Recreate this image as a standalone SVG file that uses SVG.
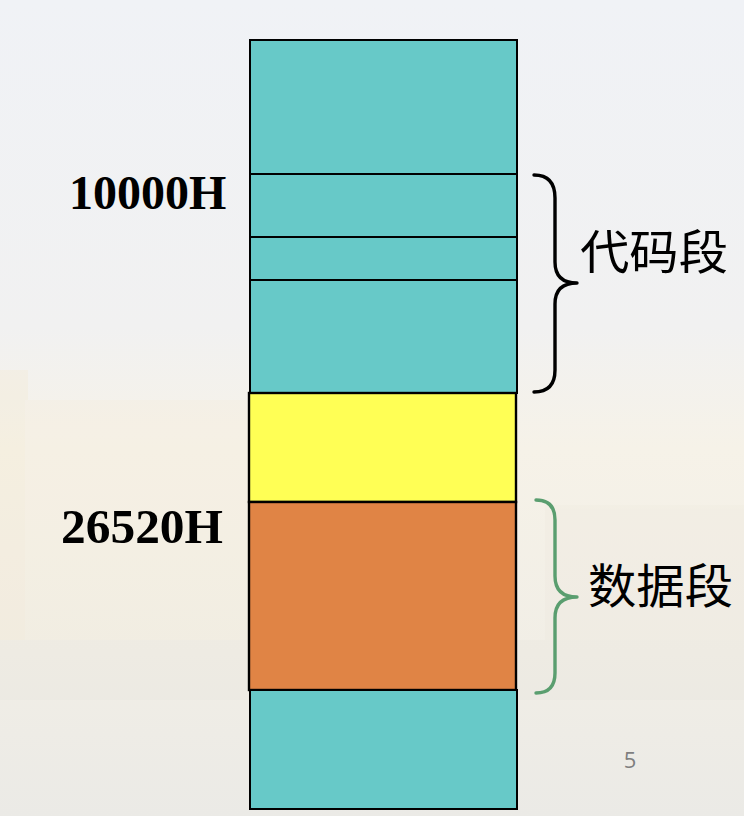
<svg xmlns="http://www.w3.org/2000/svg" width="744" height="816" viewBox="0 0 744 816">
  <defs>
    <linearGradient id="bg" x1="0" y1="0" x2="0" y2="1">
      <stop offset="0" stop-color="#f0f2f6"/>
      <stop offset="0.4" stop-color="#f1f1f1"/>
      <stop offset="0.55" stop-color="#f6f2e8"/>
      <stop offset="0.8" stop-color="#f1eee6"/>
      <stop offset="1" stop-color="#ebeae6"/>
    </linearGradient>
    <style>
      .teal { fill: #67c9c8; stroke: #000; stroke-width: 2; }
      .yellow { fill: #ffff55; stroke: #000; stroke-width: 2.4; }
      .orange { fill: #e08445; stroke: #000; stroke-width: 2.4; }
      .addr { font-family: "Liberation Serif", "Times New Roman", serif; font-weight: bold; font-size: 48px; fill: #000; }
      .seg { font-family: "Noto Sans CJK SC", "Noto Sans", sans-serif; font-size: 47px; fill: #000; }
      .brace { fill: none; stroke-width: 3.4; stroke-linecap: round; stroke-linejoin: round; }
    </style>
  </defs>
  <rect x="0" y="0" width="744" height="816" fill="url(#bg)"/>
  <g opacity="0.22">
    <rect x="0" y="370" width="28" height="300" fill="#f3e6c8"/>
    <rect x="25" y="400" width="225" height="260" fill="#f5ecd8"/>
    <rect x="545" y="505" width="200" height="160" fill="#ece6da"/>
    <rect x="0" y="640" width="744" height="60" fill="#e6e2da"/>
  </g>

  <g id="block-top"><rect class="teal" x="250" y="40" width="267" height="134"/></g>
  <g id="block-code1"><rect class="teal" x="250" y="174" width="267" height="63"/></g>
  <g id="block-code2"><rect class="teal" x="250" y="237" width="267" height="43"/></g>
  <g id="block-code3"><rect class="teal" x="250" y="280" width="267" height="113"/></g>
  <g id="block-yellow"><rect class="yellow" x="249" y="393" width="267" height="109"/></g>
  <g id="block-data"><rect class="orange" x="249" y="502" width="267" height="188"/></g>
  <g id="block-bottom"><rect class="teal" x="250" y="690" width="267" height="119"/></g>

  <g id="label-10000H"><text class="addr" x="69" y="209">10000H</text></g>
  <g id="label-26520H"><text class="addr" x="61" y="543" textLength="162" lengthAdjust="spacingAndGlyphs">26520H</text></g>

  <g id="connectors">
    <path class="brace" stroke="#000" d="M534,175 Q555,175 555,198 L555,262 Q555,283 577,283 Q555,283 555,304 L555,370 Q555,392 534,392"/>
    <path class="brace" stroke="#5a9e6f" d="M536,500 Q555,500 555,520 L555,576 Q555,597 577,597 Q555,597 555,618 L555,673 Q555,693 536,693"/>
  </g>

  <g id="label-code"><text class="seg" x="580" y="269" textLength="148" lengthAdjust="spacingAndGlyphs">代码段</text></g>
  <g id="label-data"><text class="seg" x="588" y="603" textLength="145" lengthAdjust="spacingAndGlyphs">数据段</text></g>

  <text x="630" y="768" text-anchor="middle" font-family="'Open Sans', 'Liberation Sans', sans-serif" font-size="22" fill="#7f7f7f">5</text>
</svg>
